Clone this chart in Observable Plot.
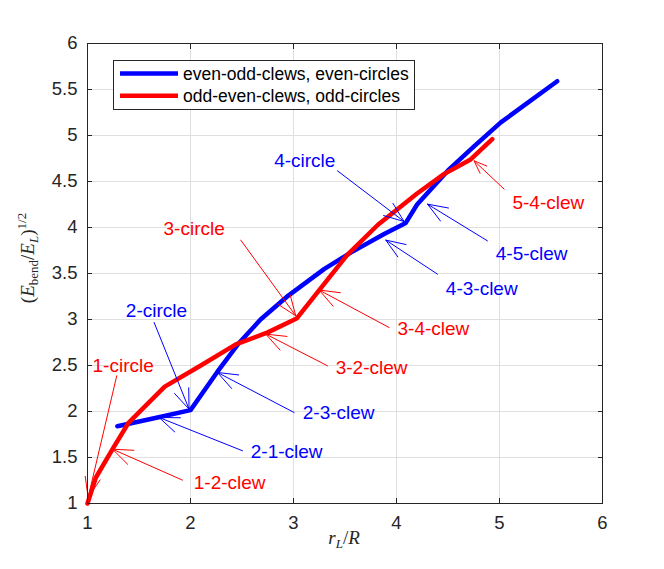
<!DOCTYPE html>
<html><head><meta charset="utf-8">
<script src="https://cdn.jsdelivr.net/npm/d3@7"></script>
<script src="https://cdn.jsdelivr.net/npm/@observablehq/plot@0.6"></script>
<style>body{margin:0;background:#fff}</style>
</head><body><div id="chart"></div>
<script>
// even-odd-clews, even-circles (blue)
const blueX = [1.29, 1.68, 2.00, 2.26, 2.46, 2.68, 2.95, 3.30, 3.56, 3.88, 4.09, 4.20, 4.50, 4.75, 5.01, 5.56];
const blueY = [1.84, 1.935, 2.015, 2.43, 2.73, 3.00, 3.26, 3.55, 3.73, 3.93, 4.05, 4.25, 4.62, 4.88, 5.14, 5.59];
// odd-even-clews, odd-circles (red)
const redX = [1.00, 1.08, 1.243, 1.40, 1.75, 2.10, 2.44, 2.75, 3.03, 3.25, 3.52, 3.82, 4.20, 4.46, 4.72, 4.93];
const redY = [1.00, 1.28, 1.59, 1.88, 2.27, 2.50, 2.73, 2.86, 3.01, 3.32, 3.70, 4.03, 4.37, 4.58, 4.74, 4.96];

const seriesNames = ["even-odd-clews, even-circles", "odd-even-clews, odd-circles"];

// annotations
const annText  = ["1-circle","1-2-clew","2-circle","2-1-clew","2-3-clew","3-circle","3-2-clew","3-4-clew","4-circle","4-3-clew","4-5-clew","5-4-clew"];
const annSeries = [1,1,0,0,0,1,1,1,0,0,0,1];
const annFromX = [1.284, 1.922, 1.647, 2.505, 3.006, 2.488, 3.330, 3.928, 3.427, 4.398, 4.883, 5.045];
const annFromY = [2.388, 1.254, 2.967, 1.573, 1.989, 3.863, 2.497, 2.913, 4.616, 3.493, 3.855, 4.417];
const annToX   = [1.006, 1.243, 1.986, 1.695, 2.262, 3.022, 2.731, 3.249, 4.074, 3.896, 4.301, 4.753];
const annToY   = [1.065, 1.590, 2.026, 1.935, 2.424, 3.040, 2.841, 3.320, 4.065, 3.863, 4.254, 4.725];
const annTextX = [1.049, 2.032, 1.372, 2.585, 3.090, 1.738, 3.410, 4.010, 2.812, 4.479, 4.964, 5.126];
const annTextY = [2.496, 1.228, 3.095, 1.565, 1.986, 3.983, 2.475, 2.896, 4.725, 3.330, 3.711, 4.272];

const xTicks = [1, 2, 3, 4, 5, 6];
const yTicks = [1, 1.5, 2, 2.5, 3, 3.5, 4, 4.5, 5, 5.5, 6];

const colors = ["#0000ff", "#ff0000"];
const ink = "#262626";
const sans = "'Liberation Sans', Arial, Helvetica, sans-serif";
const serif = "'Liberation Serif', 'Times New Roman', serif";

const blue = blueX.map((x, i) => ({x, y: blueY[i]}));
const red = redX.map((x, i) => ({x, y: redY[i]}));
const ann = annText.map((t, i) => ({
  t, c: colors[annSeries[i]],
  x1: annFromX[i], y1: annFromY[i], x2: annToX[i], y2: annToY[i],
  tx: annTextX[i], ty: annTextY[i]
}));

const W = 664, H = 569, mL = 87, mR = 62, mT = 43, mB = 66;

const chart = Plot.plot({
  width: W, height: H,
  marginLeft: mL, marginRight: mR, marginTop: mT, marginBottom: mB,
  style: {fontFamily: sans, fontSize: "18px", color: ink, background: "#fff", overflow: "visible"},
  x: {domain: [1, 6]},
  y: {domain: [1, 6]},
  marks: [
    Plot.gridX(xTicks, {stroke: "#dfdfdf", strokeOpacity: 1}),
    Plot.gridY(yTicks, {stroke: "#dfdfdf", strokeOpacity: 1}),
    Plot.line(blue, {x: "x", y: "y", stroke: colors[0], strokeWidth: 4.5}),
    Plot.line(red, {x: "x", y: "y", stroke: colors[1], strokeWidth: 4.5}),
    Plot.arrow(ann, {x1: "x1", y1: "y1", x2: "x2", y2: "y2", stroke: d => d.c, strokeWidth: 1, headLength: 32, headAngle: 42}),
    Plot.text(ann, {x: "tx", y: "ty", text: "t", fill: d => d.c, textAnchor: "start", lineAnchor: "middle", fontSize: 19}),
    Plot.frame({stroke: ink, strokeWidth: 1}),
    Plot.axisX(xTicks, {anchor: "bottom", tickSize: -5, tickPadding: 17.5, label: null, stroke: ink, fill: ink, fontSize: 18.5, tickFormat: d => String(d)}),
    Plot.axisX(xTicks, {anchor: "top", tickSize: -5, label: null, stroke: ink, tickFormat: () => ""}),
    Plot.axisY(yTicks, {anchor: "left", tickSize: -5, tickPadding: 15, label: null, stroke: ink, fill: ink, fontSize: 18.5, tickFormat: d => String(d)}),
    Plot.axisY(yTicks, {anchor: "right", tickSize: -5, label: null, stroke: ink, tickFormat: () => ""})
  ]
});

const svg = d3.select(chart);

// legend
const lg = svg.append("g").attr("text-anchor", "start");
lg.append("rect").attr("x", 113.5).attr("y", 60.5).attr("width", 301).attr("height", 49)
  .attr("fill", "#fff").attr("stroke", ink).attr("stroke-width", 1);
seriesNames.forEach((name, i) => {
  const yy = 73.5 + i * 22.3;
  lg.append("line").attr("x1", 120).attr("x2", 178).attr("y1", yy).attr("y2", yy)
    .attr("stroke", colors[i]).attr("stroke-width", 4.5);
  lg.append("text").attr("x", 183).attr("y", yy).attr("dy", "0.35em")
    .attr("text-anchor", "start")
    .attr("font-family", sans).attr("font-size", 17.5).attr("fill", "#000").text(name);
});

// y label
const yl = svg.append("text")
  .attr("transform", "translate(34,258) rotate(-90)")
  .attr("text-anchor", "middle")
  .attr("font-family", serif).attr("font-size", 19).attr("fill", ink);
yl.append("tspan").text("(");
yl.append("tspan").attr("font-style", "italic").text("E");
yl.append("tspan").attr("font-size", 13).attr("dy", 4).text("bend");
yl.append("tspan").attr("dy", -4).text("/");
yl.append("tspan").attr("font-style", "italic").text("E");
yl.append("tspan").attr("font-size", 13).attr("font-style", "italic").attr("dy", 4).text("L");
yl.append("tspan").attr("dy", -4).text(")");
yl.append("tspan").attr("font-size", 13).attr("dy", -8).text("1/2");

// x label
const xl = svg.append("text")
  .attr("x", 344).attr("y", 544)
  .attr("text-anchor", "middle")
  .attr("font-family", serif).attr("font-size", 19).attr("fill", ink);
xl.append("tspan").attr("font-style", "italic").text("r");
xl.append("tspan").attr("font-size", 13).attr("font-style", "italic").attr("dy", 4).text("L");
xl.append("tspan").attr("dy", -4).text("/");
xl.append("tspan").attr("font-style", "italic").text("R");

document.getElementById("chart").appendChild(chart);
</script>
</body></html>
